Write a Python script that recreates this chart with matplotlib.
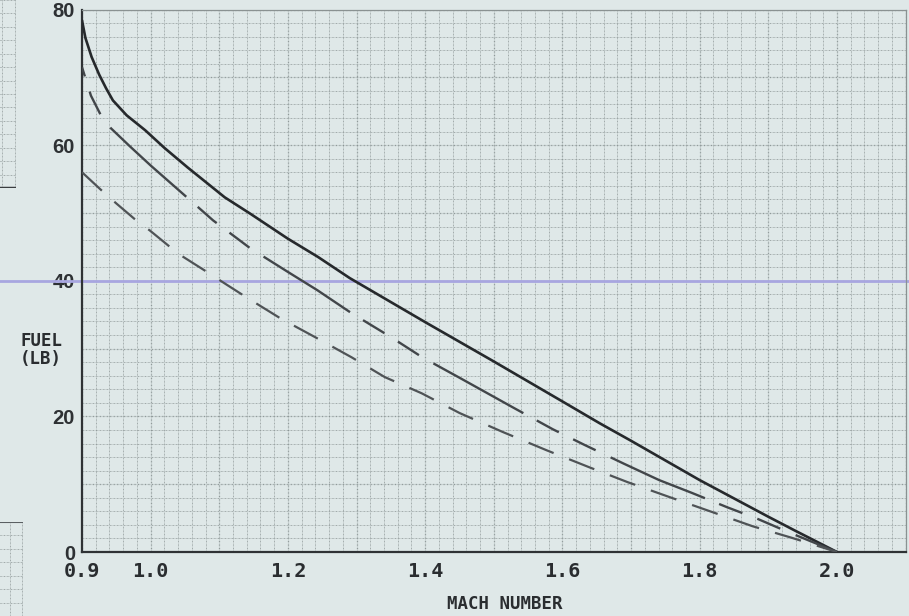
import matplotlib
matplotlib.use("Agg")
import matplotlib.pyplot as plt
import numpy as np
from matplotlib.transforms import blended_transform_factory

# Fuel remaining versus Mach number, three schedules
mach_a = [0.900, 0.905, 0.914, 0.925, 0.935, 0.945, 0.965, 0.992, 1.020, 1.054,
          1.108, 1.145, 1.200, 1.244, 1.290, 1.400, 1.500, 1.600, 1.654, 1.700,
          1.800, 1.900, 1.938, 2.000]
fuel_a = [78.4, 75.8, 73.0, 70.4, 68.4, 66.6, 64.4, 62.2, 59.6, 56.7,
          52.3, 49.9, 46.2, 43.5, 40.4, 33.9, 28.1, 22.2, 19.0, 16.4,
          10.6, 5.2, 3.2, 0.0]

mach_b = [0.900, 0.913, 0.928, 0.942, 0.970, 1.000, 1.054, 1.091, 1.145, 1.200,
          1.243, 1.293, 1.350, 1.396, 1.450, 1.530, 1.586, 1.632, 1.690, 1.741,
          1.789, 1.840, 1.884, 1.930, 2.000]
fuel_b = [71.5, 67.3, 64.3, 62.5, 59.8, 57.0, 52.2, 48.9, 44.8, 41.3,
          38.6, 35.2, 31.7, 28.7, 25.7, 21.2, 18.1, 15.8, 13.0, 10.6,
          8.7, 6.6, 4.9, 2.9, 0.0]

mach_c = [0.900, 0.933, 0.950, 0.979, 0.999, 1.022, 1.040, 1.079, 1.108, 1.142,
          1.190, 1.243, 1.293, 1.341, 1.395, 1.450, 1.513, 1.577, 1.639, 1.695,
          1.756, 1.818, 1.877, 1.934, 2.000]
fuel_c = [56.0, 52.9, 51.4, 48.9, 47.4, 45.5, 44.0, 41.5, 39.6, 37.4,
          34.4, 31.5, 28.7, 25.8, 23.4, 20.5, 17.7, 15.0, 12.5, 10.3,
          8.1, 5.9, 3.8, 2.1, 0.0]

x_ticks = [0.9, 1.0, 1.2, 1.4, 1.6, 1.8, 2.0]
x_tick_labels = ["0.9", "1.0", "1.2", "1.4", "1.6", "1.8", "2.0"]
y_ticks = [0, 20, 40, 60, 80]
y_tick_labels = ["0", "20", "40", "60", "80"]
marked_fuel = 40

PAPER = "#dfe8e8"
INK = "#26292c"
GRID_BASE = "#c6d0d0"
GRID_DOT = "#7c8585"

plt.rcParams["lines.scale_dashes"] = False

W, H = 909, 616
fig = plt.figure(figsize=(W / 100, H / 100), dpi=100, facecolor=PAPER)


def paper_grid(axis, xs, ys, major_x=None, major_y=None):
    for i, x in enumerate(xs):
        heavy = major_x is not None and i % major_x == 0
        axis.axvline(x, color=GRID_BASE, lw=0.8 if heavy else 0.6, zorder=0.5)
        axis.axvline(x, color=GRID_DOT, lw=0.9 if heavy else 0.7,
                     ls=(0, (0.7, 1.8)), alpha=0.75 if heavy else 0.55, zorder=0.6)
    for j, y in enumerate(ys):
        heavy = major_y is not None and j % major_y == 0
        axis.axhline(y, color=GRID_BASE, lw=0.8 if heavy else 0.6, zorder=0.5)
        axis.axhline(y, color=GRID_DOT, lw=0.9 if heavy else 0.7,
                     ls=(0, (0.7, 1.8)), alpha=0.75 if heavy else 0.55, zorder=0.6)


# neighbouring sheets of graph paper at the left margin
frag_top = fig.add_axes([0, 1 - 188 / H, 16 / W, 188 / H])
frag_bot = fig.add_axes([0, 0, 23 / W, (H - 522) / H])
for fa in (frag_top, frag_bot):
    fa.set_facecolor(PAPER)
    fa.set_xlim(0, 1)
    fa.set_ylim(0, 1)
    fa.set_xticks([])
    fa.set_yticks([])
    for s in fa.spines.values():
        s.set_visible(False)
paper_grid(frag_top, [0.1, 0.95], np.linspace(0, 1, 15))
frag_top.axhline(0.0, color="#3a3d40", lw=2.5)
paper_grid(frag_bot, [0.45, 0.97], np.linspace(0, 1, 8))
frag_bot.axhline(1.0, color="#5a5f62", lw=1.5)

ax = fig.add_axes([82 / W, 1 - 552 / H, (905.6 - 82) / W, (552 - 9.5) / H])
ax.set_facecolor(PAPER)
ax.set_xlim(0.9, 2.1)
ax.set_ylim(0, 80)

paper_grid(ax, np.arange(0.9, 2.1001, 0.02), np.arange(0, 80.01, 2),
           major_x=5, major_y=5)

ax.plot(mach_a, fuel_a, color=INK, lw=1.9, solid_capstyle="round",
        solid_joinstyle="round", zorder=3)
ax.plot(mach_b, fuel_b, color="#42464a", lw=1.7,
        ls=(96, (74, 11, 18, 11.5, 18, 12)), zorder=3)
ax.plot(mach_c, fuel_c, color="#4f5356", lw=1.6,
        ls=(0, (19.5, 12)), zorder=3)

# ruled line across the sheet at the 40 lb level
trans = blended_transform_factory(fig.transFigure, ax.transData)
ax.plot([0, 1], [marked_fuel, marked_fuel], transform=trans, clip_on=False,
        color="#a8a6e0", lw=2.0, zorder=2)

for side in ("top", "right"):
    ax.spines[side].set_color("#8a9292")
    ax.spines[side].set_linewidth(0.9)
for side in ("left", "bottom"):
    ax.spines[side].set_color("#2f3235")
    ax.spines[side].set_linewidth(1.6)

ax.set_xticks(x_ticks)
ax.set_xticklabels(x_tick_labels, fontfamily="DejaVu Sans Mono",
                   fontweight="bold", fontsize=14.5, color="#2a2d30")
ax.set_yticks(y_ticks)
ax.set_yticklabels(y_tick_labels, fontfamily="Liberation Sans",
                   fontweight="bold", fontsize=14.5, color="#2e3134")
ax.tick_params(axis="x", length=0, pad=7)
ax.tick_params(axis="y", length=0, pad=5)

fig.text(505 / W, 1 - 604 / H, "MACH NUMBER", ha="center", va="center",
         fontfamily="DejaVu Sans Mono", fontweight="bold", fontsize=12.5,
         color="#2a2d30")
fig.text(41 / W, 1 - 350 / H, "FUEL\n(LB)", ha="center", va="center",
         fontfamily="DejaVu Sans Mono", fontweight="bold", fontsize=12.5,
         color="#2a2d30", linespacing=1.05)

fig.savefig("out.png", dpi=100, facecolor=PAPER)
